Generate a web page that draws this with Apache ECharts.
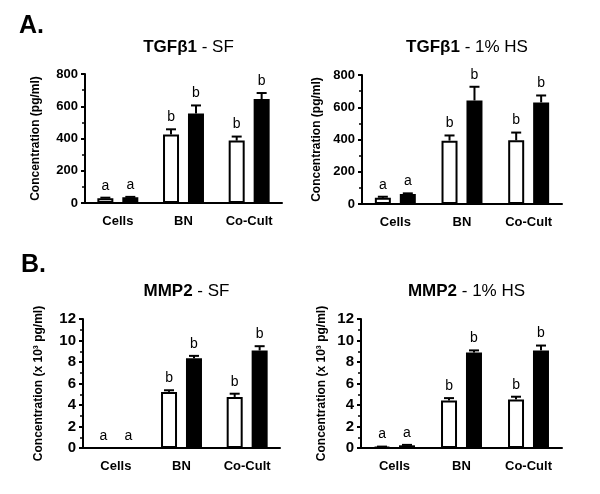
<!DOCTYPE html>
<html>
<head>
<meta charset="utf-8">
<script src="https://cdn.jsdelivr.net/npm/echarts@6/dist/echarts.min.js"></script>
<style>
html,body{margin:0;padding:0;background:#fff;}
#chart{width:600px;height:494px;}
</style>
</head>
<body>
<div id="chart"></div>
<script>
// ---- Data ----
const categories = ['Cells', 'BN', 'Co-Cult'];

// Panel A left: TGFβ1 - SF (pg/ml)
const tgfSF_open = [30, 425, 387];
const tgfSF_openErr = [3, 32, 25];
const tgfSF_solid = [35, 555, 645];
const tgfSF_solidErr = [3, 50, 37];

// Panel A right: TGFβ1 - 1% HS (pg/ml)
const tgfHS_open = [38, 393, 395];
const tgfHS_openErr = [7, 32, 48];
const tgfHS_solid = [62, 642, 630];
const tgfHS_solidErr = [4, 85, 43];

// Panel B left: MMP2 - SF (x 10^3 pg/ml)
const mmpSF_open = [0, 5.22, 4.75];
const mmpSF_openErr = [0, 0.15, 0.3];
const mmpSF_solid = [0, 8.35, 9.07];
const mmpSF_solidErr = [0, 0.22, 0.4];

// Panel B right: MMP2 - 1% HS (x 10^3 pg/ml)
const mmpHS_open = [0.1, 4.42, 4.52];
const mmpHS_openErr = [0.03, 0.22, 0.25];
const mmpHS_solid = [0.25, 8.88, 9.08];
const mmpHS_solidErr = [0.04, 0.2, 0.45];

// Significance letters
const letters_open = ['a', 'b', 'b'];
const letters_solid = ['a', 'b', 'b'];

const tgfTicks = [0, 200, 400, 600, 800];
const mmpTicks = [0, 2, 4, 6, 8, 10, 12];

const titles = [
  ['TGFβ1', ' - SF'],
  ['TGFβ1', ' - 1% HS'],
  ['MMP2', ' - SF'],
  ['MMP2', ' - 1% HS']
];
const yNames = ['Concentration (pg/ml)', 'Concentration (pg/ml)',
                'Concentration (x 10³ pg/ml)', 'Concentration (x 10³ pg/ml)'];
const panelLabels = ['A.', 'B.'];

// ---- Layout / style ----
const FONT = '"Liberation Sans", Arial, Helvetica, sans-serif';
const BAR_W = 16;
const BAR_GAP = 0.56;
const HALF = BAR_W * (1 + BAR_GAP) / 2;

const panels = [
  {grid: {left: 85, top: 74, width: 197, height: 129}, ticks: tgfTicks, tickFont: 13, nameGap: 43,
   open: tgfSF_open, openErr: tgfSF_openErr, solid: tgfSF_solid, solidErr: tgfSF_solidErr},
  {grid: {left: 362, top: 75, width: 200, height: 129}, ticks: tgfTicks, tickFont: 13, nameGap: 39,
   open: tgfHS_open, openErr: tgfHS_openErr, solid: tgfHS_solid, solidErr: tgfHS_solidErr},
  {grid: {left: 83, top: 319, width: 197, height: 129}, ticks: mmpTicks, tickFont: 15, nameGap: 38,
   open: mmpSF_open, openErr: mmpSF_openErr, solid: mmpSF_solid, solidErr: mmpSF_solidErr},
  {grid: {left: 361, top: 319, width: 201, height: 129}, ticks: mmpTicks, tickFont: 15, nameGap: 33,
   open: mmpHS_open, openErr: mmpHS_openErr, solid: mmpHS_solid, solidErr: mmpHS_solidErr}
];

const grids = [], xAxes = [], yAxes = [], series = [], titleOpts = [];

function errSeries(pi, vals, errs, letters, dx) {
  return {
    type: 'custom',
    xAxisIndex: pi, yAxisIndex: pi,
    z: 5,
    silent: true,
    data: categories.map((c, i) => [i, vals[i], errs[i]]),
    renderItem: function (params, api) {
      const i = api.value(0), v = api.value(1), e = api.value(2);
      const base = api.coord([i, v]);
      const top = api.coord([i, v + e]);
      const x = base[0] + dx;
      const children = [];
      if (e > 0) {
        children.push({type: 'line', shape: {x1: x, y1: base[1], x2: x, y2: top[1]},
          style: {stroke: '#000', lineWidth: 2}});
        children.push({type: 'line', shape: {x1: x - 5, y1: top[1], x2: x + 5, y2: top[1]},
          style: {stroke: '#000', lineWidth: 2}});
      }
      children.push({type: 'text', x: x, y: top[1] - 5,
        style: {text: letters[params.dataIndex], fontFamily: FONT, fontSize: 14,
          fill: '#000', align: 'center', verticalAlign: 'bottom'}});
      return {type: 'group', children: children};
    }
  };
}

panels.forEach((p, pi) => {
  grids.push(Object.assign({containLabel: false}, p.grid));
  const tmax = p.ticks[p.ticks.length - 1];
  const tint = p.ticks[1] - p.ticks[0];
  xAxes.push({
    type: 'category', gridIndex: pi, data: categories,
    axisLine: {lineStyle: {color: '#000', width: 2}},
    axisTick: {show: false},
    axisLabel: {fontFamily: FONT, fontWeight: 'bold', fontSize: 13, color: '#000', margin: 12}
  });
  yAxes.push({
    type: 'value', gridIndex: pi, min: 0, max: tmax, interval: tint,
    name: yNames[pi], nameLocation: 'middle', nameGap: p.nameGap,
    nameTextStyle: {fontFamily: FONT, fontWeight: 'bold', fontSize: 12, color: '#000'},
    axisLine: {show: true, lineStyle: {color: '#000', width: 2}},
    axisTick: {show: true, length: 4, lineStyle: {color: '#000', width: 2}},
    minorTick: {show: true, splitNumber: 2, length: 3, lineStyle: {color: '#000', width: 1.5}},
    splitLine: {show: false},
    axisLabel: {fontFamily: FONT, fontWeight: 'bold', fontSize: p.tickFont, color: '#000', margin: 7}
  });
  series.push({
    type: 'bar', xAxisIndex: pi, yAxisIndex: pi, data: p.open,
    barWidth: BAR_W, barGap: (BAR_GAP * 100) + '%',
    itemStyle: {color: '#fff', borderColor: '#000', borderWidth: 2}
  });
  series.push({
    type: 'bar', xAxisIndex: pi, yAxisIndex: pi, data: p.solid,
    barWidth: BAR_W, barGap: (BAR_GAP * 100) + '%',
    itemStyle: {color: '#000', borderColor: '#000', borderWidth: 2}
  });
  series.push(errSeries(pi, p.open, p.openErr, letters_open, -HALF));
  series.push(errSeries(pi, p.solid, p.solidErr, letters_solid, HALF));
  titleOpts.push({
    text: '{b|' + titles[pi][0] + '}{n|' + titles[pi][1] + '}',
    left: p.grid.left + p.grid.width / 2, top: pi < 2 ? 34 : 278,
    textAlign: 'center',
    textStyle: {rich: {
      b: {fontFamily: FONT, fontWeight: 'bold', fontSize: 17, color: '#000'},
      n: {fontFamily: FONT, fontWeight: 'normal', fontSize: 17, color: '#000'}
    }}
  });
});

const chart = echarts.init(document.getElementById('chart'), null, {renderer: 'canvas'});
chart.setOption({
  animation: false,
  backgroundColor: '#fff',
  title: titleOpts,
  grid: grids,
  xAxis: xAxes,
  yAxis: yAxes,
  series: series,
  graphic: [
    {type: 'text', left: 19, top: 14, style: {text: panelLabels[0], fontFamily: FONT, fontWeight: 'bold', fontSize: 25, fill: '#000'}},
    {type: 'text', left: 21, top: 253, style: {text: panelLabels[1], fontFamily: FONT, fontWeight: 'bold', fontSize: 25, fill: '#000'}}
  ]
});
</script>
</body>
</html>
